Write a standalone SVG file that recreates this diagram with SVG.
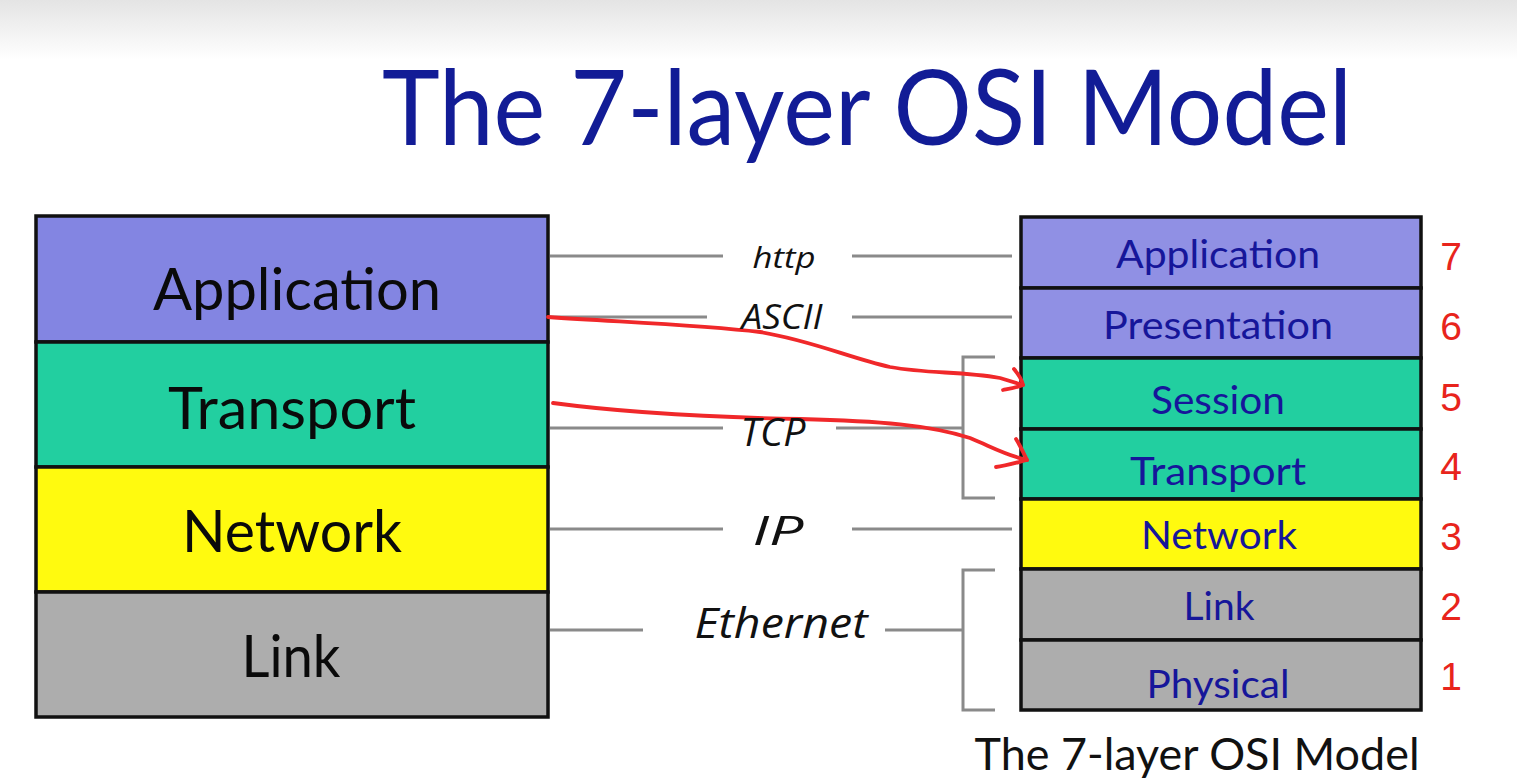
<svg xmlns="http://www.w3.org/2000/svg" width="1517" height="781" viewBox="0 0 1517 781">
<defs>
<linearGradient id="bg" x1="0" y1="0" x2="0" y2="1">
<stop offset="0" stop-color="#e4e4e4"/><stop offset="1" stop-color="#ffffff"/>
</linearGradient>
</defs>
<style>
.box{stroke:#111;stroke-width:3.5}
.purpleL{fill:#8385e2}
.purpleR{fill:#9090e4}
.green{fill:#22cfa0}
.yellow{fill:#fffa0f}
.grey{fill:#adadad}
.lt{font-family:Lato,"Open Sans",sans-serif;font-size:58px;fill:#0a0a0a;text-anchor:middle}
.rt{font-family:Lato,"Open Sans",sans-serif;font-size:38px;fill:#16169a;text-anchor:middle}
.num{font-family:"Liberation Sans",Arial,sans-serif;font-size:39px;fill:#e8241c;text-anchor:middle}
.proto{font-family:"Open Sans","Noto Sans",sans-serif;font-style:italic;fill:#111;text-anchor:middle}
.gl{stroke:#8a8a8a;stroke-width:3;fill:none}
.red{stroke:#f0282a;stroke-width:3.8;fill:none;stroke-linecap:round;stroke-linejoin:round}
</style>
<rect x="0" y="0" width="1517" height="60" fill="url(#bg)"/>
<rect x="0" y="60" width="1517" height="721" fill="#ffffff"/>
<text x="867" y="145" font-family="Lato,'Open Sans',sans-serif" font-size="104" fill="#121c96" text-anchor="middle" textLength="970" lengthAdjust="spacingAndGlyphs">The 7-layer OSI Model</text>

<g id="left-stack">
<g id="L-application"><rect class="box purpleL" x="36" y="216" width="512" height="126"/><text class="lt" x="297" y="310" textLength="288" lengthAdjust="spacingAndGlyphs">Application</text></g>
<g id="L-transport"><rect class="box green" x="36" y="342" width="512" height="125"/><text class="lt" x="292" y="429" textLength="248" lengthAdjust="spacingAndGlyphs">Transport</text></g>
<g id="L-network"><rect class="box yellow" x="36" y="467" width="512" height="125"/><text class="lt" x="292" y="552" textLength="220" lengthAdjust="spacingAndGlyphs">Network</text></g>
<g id="L-link"><rect class="box grey" x="36" y="592" width="512" height="125"/><text class="lt" x="291" y="677" textLength="99" lengthAdjust="spacingAndGlyphs">Link</text></g>
</g>

<g id="right-stack">
<g id="R-application"><rect class="box purpleR" x="1021" y="217" width="400" height="71"/><text class="rt" x="1218" y="268" textLength="204" lengthAdjust="spacingAndGlyphs">Application</text><text class="num" x="1451" y="270">7</text></g>
<g id="R-presentation"><rect class="box purpleR" x="1021" y="288" width="400" height="70"/><text class="rt" x="1218" y="339" textLength="230" lengthAdjust="spacingAndGlyphs">Presentation</text><text class="num" x="1451" y="340">6</text></g>
<g id="R-session"><rect class="box green" x="1021" y="358" width="400" height="71"/><text class="rt" x="1218" y="414" textLength="134" lengthAdjust="spacingAndGlyphs">Session</text><text class="num" x="1451" y="411">5</text></g>
<g id="R-transport"><rect class="box green" x="1021" y="429" width="400" height="70"/><text class="rt" x="1218" y="485" textLength="176" lengthAdjust="spacingAndGlyphs">Transport</text><text class="num" x="1451" y="480">4</text></g>
<g id="R-network"><rect class="box yellow" x="1021" y="499" width="400" height="70"/><text class="rt" x="1219" y="549" textLength="156" lengthAdjust="spacingAndGlyphs">Network</text><text class="num" x="1451" y="550">3</text></g>
<g id="R-link"><rect class="box grey" x="1021" y="569" width="400" height="71"/><text class="rt" x="1219" y="620" textLength="71" lengthAdjust="spacingAndGlyphs">Link</text><text class="num" x="1451" y="620">2</text></g>
<g id="R-physical"><rect class="box grey" x="1021" y="640" width="400" height="70"/><text class="rt" x="1218" y="698" textLength="143" lengthAdjust="spacingAndGlyphs">Physical</text><text class="num" x="1451" y="690">1</text></g>
</g>

<g id="connectors">
<path class="gl" d="M550 256H723M852 256H1012"/>
<path class="gl" d="M550 317H707M852 317H1012"/>
<path class="gl" d="M550 428H723M836 428H963M995 357H963V498H995"/>
<path class="gl" d="M550 529H723M852 529H1012"/>
<path class="gl" d="M550 630H643M885 630H963M995 570H963V710H995"/>
<path class="red" d="M548 317C620 322 700 325 760 332C810 340 850 358 890 367C930 374 960 371 1000 378L1023 385"/>
<path class="red" d="M1014 369C1019 375 1022 380 1023 385C1015 388 1008 389 1003 390"/>
<path class="red" d="M553 403C620 412 700 417 800 419C880 421 930 425 970 438C990 446 1005 455 1027 460"/>
<path class="red" d="M1016 439C1021 447 1024 454 1027 460C1015 463 1005 466 996 467"/>
</g>

<g id="labels">
<text class="proto" x="784" y="268" font-size="30" textLength="63" lengthAdjust="spacingAndGlyphs">http</text>
<text class="proto" x="782" y="329" font-size="34" textLength="81" lengthAdjust="spacingAndGlyphs">ASCII</text>
<text class="proto" x="773" y="446" font-size="38" textLength="65" lengthAdjust="spacingAndGlyphs">TCP</text>
<text class="proto" x="778" y="545" font-size="40" textLength="51" lengthAdjust="spacingAndGlyphs">IP</text>
<text class="proto" x="781" y="638" font-size="42" textLength="173" lengthAdjust="spacingAndGlyphs">Ethernet</text>
</g>

<text x="1197" y="770" font-family="Lato,'Open Sans',sans-serif" font-size="44" fill="#111" text-anchor="middle" textLength="445" lengthAdjust="spacingAndGlyphs">The 7-layer OSI Model</text>
</svg>
